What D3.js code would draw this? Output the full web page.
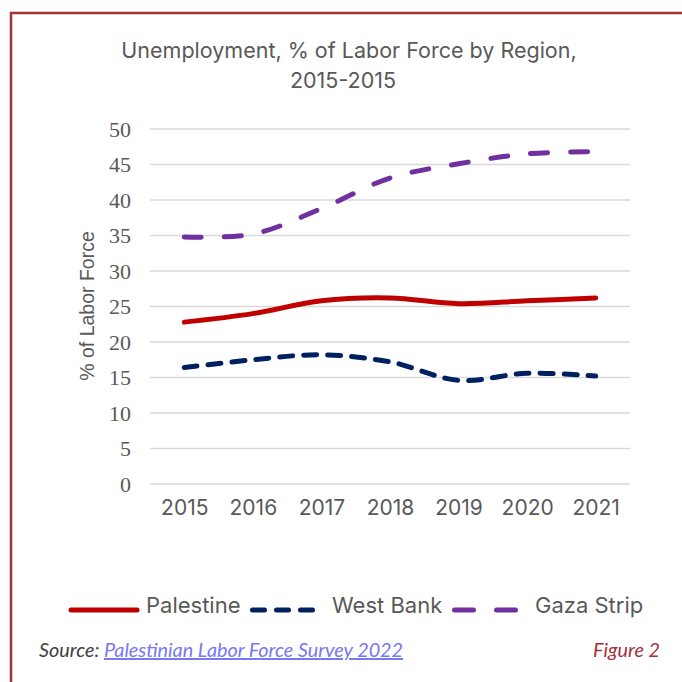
<!DOCTYPE html>
<html>
<head>
<meta charset="utf-8">
<script src="https://cdn.jsdelivr.net/npm/d3@7"></script>
<style>
  body { margin: 0; background: #fff; }
  svg { display: block; }
</style>
</head>
<body>
<div id="chart"></div>
<script>
const years = ["2015", "2016", "2017", "2018", "2019", "2020", "2021"];
const palestine = [22.8, 24.0, 25.8, 26.2, 25.4, 25.8, 26.2];
const westBank = [16.4, 17.5, 18.2, 17.2, 14.6, 15.6, 15.2];
const gaza = [34.8, 35.2, 38.8, 43.1, 45.1, 46.5, 46.8];
const yTicks = [0, 5, 10, 15, 20, 25, 30, 35, 40, 45, 50];
const seriesNames = ["Palestine", "West Bank", "Gaza Strip"];

var W = 682, H = 682;
var margin = { top: 129, right: 52, bottom: 198, left: 150 },
	width = W - margin.left - margin.right,
	height = H - margin.top - margin.bottom;

var sansFont = "Inter, 'Open Sans', sans-serif";
var red = "#A4343A";

var svg = d3.select("#chart").append("svg")
	.attr("width", W)
	.attr("height", H);

// page frame
svg.append("path")
	.attr("d", "M11,682 V13 H682")
	.attr("fill", "none")
	.attr("stroke", red)
	.attr("stroke-width", 2.5);

// title
var title = svg.append("text")
	.attr("text-anchor", "middle")
	.attr("font-family", sansFont)
	.attr("font-size", 21.5)
	.attr("fill", "#595959");
title.append("tspan").attr("x", 349).attr("y", 58).text("Unemployment, % of Labor Force by Region,");
title.append("tspan").attr("x", 343).attr("y", 88).text("2015-2015");

var g = svg.append("g")
	.attr("transform", "translate(" + margin.left + "," + margin.top + ")");

var x = d3.scalePoint().domain(years).range([0, width]).padding(0.5);
var y = d3.scaleLinear().domain([0, 50]).range([height, 0]);

// gridlines
g.append("g")
	.selectAll("line")
	.data(yTicks)
	.enter()
	.append("line")
	.attr("x1", 0)
	.attr("x2", width)
	.attr("y1", function (d) { return y(d); })
	.attr("y2", function (d) { return y(d); })
	.attr("stroke", "#d9d9d9")
	.attr("stroke-width", 1.5);

// y axis
var yAxis = g.append("g")
	.call(d3.axisLeft(y).tickValues(yTicks).tickSize(0).tickPadding(19));
yAxis.select(".domain").remove();
yAxis.selectAll("text")
	.attr("font-family", "'Liberation Serif', 'Times New Roman', serif")
	.attr("font-size", 22)
	.attr("fill", "#595959");

// x axis
var xAxis = g.append("g")
	.attr("transform", "translate(0," + height + ")")
	.call(d3.axisBottom(x).tickSize(0).tickPadding(16));
xAxis.select(".domain").remove();
xAxis.selectAll("text")
	.attr("font-family", sansFont)
	.attr("font-size", 21)
	.attr("fill", "#595959");

// y axis title
g.append("text")
	.attr("transform", "rotate(-90)")
	.attr("x", -(306 - margin.top))
	.attr("y", 87 - margin.left + 7)
	.attr("text-anchor", "middle")
	.attr("font-family", "'Liberation Sans', Arial, sans-serif")
	.attr("font-size", 19.5)
	.attr("fill", "#595959")
	.text("% of Labor Force");

var styles = [
	{ values: palestine, color: "#C00000", dash: null, legendDash: null },
	{ values: westBank, color: "#002060", dash: "13,11", legendDash: "12,12" },
	{ values: gaza, color: "#7030A0", dash: "17,23", legendDash: "19,23" }
];

var line = d3.line()
	.x(function (d, i) { return x(years[i]); })
	.y(function (d) { return y(d); })
	.curve(d3.curveCatmullRom.alpha(0.5));

styles.forEach(function (s) {
	g.append("path")
		.datum(s.values)
		.attr("d", line)
		.attr("fill", "none")
		.attr("stroke", s.color)
		.attr("stroke-width", 5)
		.attr("stroke-linecap", "round")
		.attr("stroke-linejoin", "round")
		.attr("stroke-dasharray", s.dash);
});

// legend
var legendItems = [
	{ x1: 71, x2: 137, tx: 146 },
	{ x1: 252.5, x2: 312.5, tx: 332 },
	{ x1: 454.5, x2: 515.5, tx: 535 }
];
var legend = svg.append("g");
legendItems.forEach(function (it, i) {
	legend.append("line")
		.attr("x1", it.x1).attr("x2", it.x2)
		.attr("y1", 610).attr("y2", 610)
		.attr("stroke", styles[i].color)
		.attr("stroke-width", 5)
		.attr("stroke-linecap", "round")
		.attr("stroke-dasharray", styles[i].legendDash);
	legend.append("text")
		.attr("x", it.tx)
		.attr("y", 613)
		.attr("font-family", sansFont)
		.attr("font-size", 22)
		.attr("fill", "#595959")
		.text(seriesNames[i]);
});

// source line
var src = svg.append("text")
	.attr("x", 39)
	.attr("y", 657)
	.attr("font-family", "Lato, sans-serif")
	.attr("font-style", "italic")
	.attr("font-size", 19.8)
	.attr("fill", "#404040");
src.append("tspan").text("Source: ");
src.append("tspan")
	.attr("fill", "#7777F2")
	.attr("text-decoration", "underline")
	.text("Palestinian Labor Force Survey 2022");

svg.append("text")
	.attr("x", 660)
	.attr("y", 657)
	.attr("text-anchor", "end")
	.attr("font-family", "Lato, sans-serif")
	.attr("font-style", "italic")
	.attr("font-size", 19.8)
	.attr("fill", red)
	.text("Figure 2");
</script>
</body>
</html>
